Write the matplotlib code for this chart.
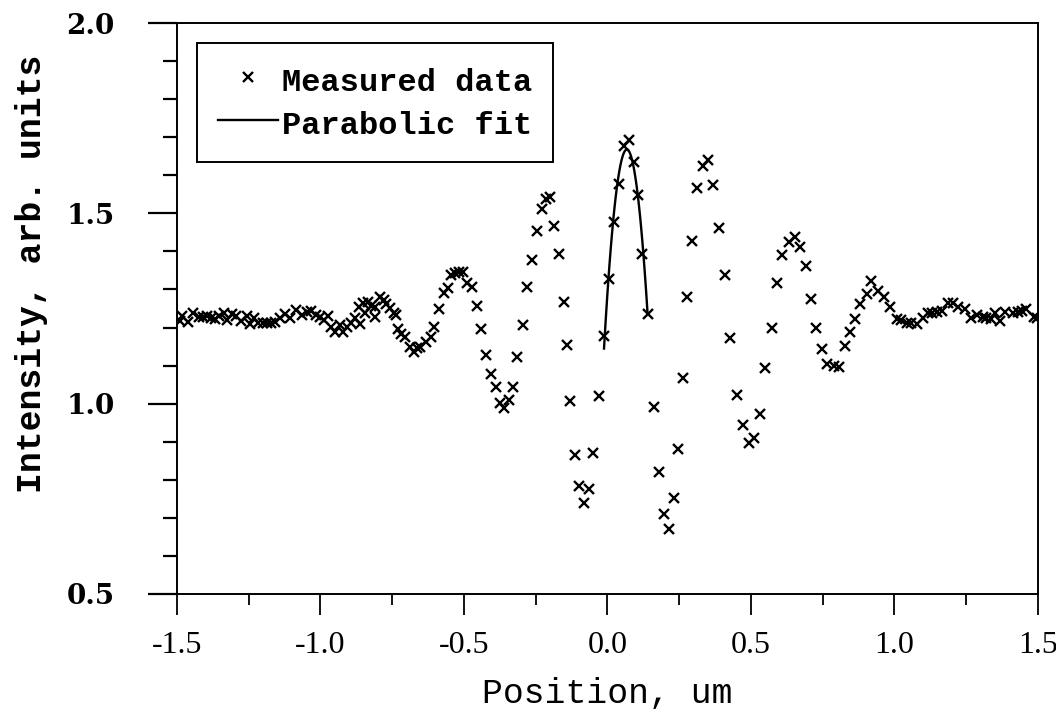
"""
Intensity profile across the sample: measured points plus a parabolic
fit of the central peak.
"""

import numpy as np
import matplotlib
matplotlib.use("Agg")
import matplotlib.pyplot as plt
from matplotlib.ticker import MultipleLocator, FormatStrFormatter

# measured profile (position in um, intensity arb. units)
POSITION = [
    -1.491, -1.481, -1.461, -1.444, -1.424, -1.410, -1.395, -1.383, -1.368, -1.354,
    -1.337, -1.325, -1.308, -1.294, -1.276, -1.256, -1.245, -1.233, -1.218, -1.202,
    -1.187, -1.172, -1.158, -1.141, -1.123, -1.106, -1.086, -1.063, -1.048, -1.033,
    -1.017, -1.002, -0.987, -0.975, -0.962, -0.948, -0.933, -0.921, -0.906, -0.892,
    -0.881, -0.867, -0.863, -0.852, -0.846, -0.834, -0.823, -0.811, -0.809, -0.794,
    -0.779, -0.771, -0.759, -0.744, -0.736, -0.731, -0.719,
    -0.705, -0.687, -0.675, -0.664, -0.652, -0.632, -0.615, -0.604, -0.586, -0.571,
    -0.557, -0.546, -0.532, -0.517, -0.502, -0.488, -0.471, -0.456, -0.440, -0.422,
    -0.405, -0.389, -0.373, -0.359, -0.344, -0.329, -0.314, -0.296, -0.280, -0.262,
    -0.245, -0.228, -0.213, -0.199, -0.187, -0.170, -0.153, -0.142, -0.130, -0.114,
    -0.099, -0.083, -0.066, -0.049, -0.031, -0.012, 0.005, 0.024, 0.041, 0.057,
    0.076, 0.093, 0.108, 0.121, 0.140, 0.161, 0.180, 0.196, 0.213, 0.231,
    0.247, 0.263, 0.278, 0.293, 0.313, 0.332, 0.349, 0.367, 0.388, 0.410,
    0.428, 0.452, 0.474, 0.492, 0.512, 0.530, 0.550, 0.572, 0.591, 0.608,
    0.632, 0.652, 0.672, 0.693, 0.709, 0.728, 0.748, 0.765, 0.788, 0.806,
    0.826, 0.844, 0.863, 0.880, 0.903, 0.920, 0.944, 0.964, 0.986, 1.009,
    1.024, 1.043, 1.058, 1.078, 1.100, 1.116, 1.132, 1.147, 1.165, 1.185,
    1.204, 1.221, 1.247, 1.268, 1.288, 1.308, 1.320, 1.337, 1.349, 1.369,
    1.385, 1.412, 1.429, 1.443, 1.458, 1.485, 1.496,
]
INTENSITY = [
    1.218, 1.230, 1.215, 1.239, 1.227, 1.227, 1.229, 1.224, 1.222, 1.230,
    1.239, 1.220, 1.236, 1.229, 1.218, 1.230, 1.209, 1.224, 1.213, 1.213,
    1.213, 1.211, 1.215, 1.224, 1.236, 1.224, 1.246, 1.233, 1.242, 1.244,
    1.233, 1.227, 1.220, 1.230, 1.202, 1.189, 1.207, 1.187, 1.202, 1.213,
    1.224, 1.253, 1.209, 1.264, 1.237, 1.268, 1.257, 1.227, 1.253, 1.281,
    1.272, 1.262, 1.251, 1.237, 1.233, 1.195, 1.183,
    1.174, 1.148, 1.137, 1.145, 1.148, 1.163, 1.174, 1.202, 1.248, 1.292,
    1.303, 1.338, 1.344, 1.347, 1.347, 1.316, 1.306, 1.257, 1.197, 1.127,
    1.077, 1.044, 1.003, 0.988, 1.010, 1.045, 1.122, 1.207, 1.306, 1.377,
    1.454, 1.511, 1.538, 1.544, 1.466, 1.392, 1.268, 1.154, 1.007, 0.864,
    0.784, 0.740, 0.775, 0.871, 1.020, 1.178, 1.328, 1.478, 1.576, 1.677,
    1.693, 1.636, 1.548, 1.392, 1.235, 0.990, 0.821, 0.710, 0.670, 0.751,
    0.880, 1.067, 1.281, 1.426, 1.566, 1.624, 1.640, 1.574, 1.461, 1.338,
    1.173, 1.023, 0.944, 0.896, 0.909, 0.972, 1.093, 1.198, 1.318, 1.390,
    1.424, 1.437, 1.411, 1.362, 1.275, 1.198, 1.143, 1.103, 1.100, 1.097,
    1.152, 1.187, 1.222, 1.262, 1.288, 1.323, 1.297, 1.281, 1.255, 1.222,
    1.221, 1.212, 1.211, 1.210, 1.224, 1.237, 1.237, 1.242, 1.243, 1.265,
    1.265, 1.255, 1.248, 1.224, 1.233, 1.227, 1.224, 1.222, 1.239, 1.218,
    1.242, 1.239, 1.242, 1.244, 1.248, 1.227, 1.224,
]

# window of the central peak used for the parabolic fit
FIT_START = -0.015
FIT_END = 0.145

X_TICKS = [-1.5, -1.0, -0.5, 0.0, 0.5, 1.0, 1.5]
Y_TICKS = [0.5, 1.0, 1.5, 2.0]

SERIF_WIDE = ["DejaVu Serif"]
SERIF_NARROW = ["Liberation Serif", "DejaVu Serif"]
TYPEWRITER = ["Liberation Mono", "DejaVu Sans Mono"]


def main():
    x = np.array(POSITION)
    y = np.array(INTENSITY)

    # parabolic fit over the peak window, like the original analysis
    mask = (x >= FIT_START) & (x <= FIT_END)
    coeffs = np.polyfit(x[mask], y[mask], 2)
    x_fit = np.linspace(x[mask].min(), x[mask].max(), 120)
    y_fit = np.polyval(coeffs, x_fit)

    fig = plt.figure(figsize=(10.56, 7.10), dpi=100)
    ax = fig.add_axes([0.1676, 0.1634, 0.8153, 0.8042])

    ax.plot(x, y, linestyle="none", marker="x", color="black",
            markersize=6.5, markeredgewidth=1.7, label="Measured data")
    ax.plot(x_fit, y_fit, color="black", linewidth=1.7, label="Parabolic fit")

    ax.set_xlim(-1.5, 1.5)
    ax.set_ylim(0.5, 2.0)
    ax.set_xticks(X_TICKS)
    ax.set_yticks(Y_TICKS)
    ax.xaxis.set_minor_locator(MultipleLocator(0.25))
    ax.yaxis.set_minor_locator(MultipleLocator(0.1))
    ax.xaxis.set_major_formatter(FormatStrFormatter("%.1f"))
    ax.yaxis.set_major_formatter(FormatStrFormatter("%.1f"))

    for side in ax.spines.values():
        side.set_linewidth(1.4)

    ax.tick_params(axis="x", which="major", direction="out", length=15, width=1.3, pad=12)
    ax.tick_params(axis="x", which="minor", direction="out", length=8, width=1.3)
    ax.tick_params(axis="y", which="major", direction="out", length=21, width=1.6, pad=24)
    ax.tick_params(axis="y", which="minor", direction="out", length=10, width=1.6)

    for lab in ax.get_xticklabels():
        lab.set_fontfamily(SERIF_NARROW)
        lab.set_fontsize(23)
    for lab in ax.get_yticklabels():
        lab.set_fontfamily(SERIF_WIDE)
        lab.set_fontsize(20)
        lab.set_fontweight("bold")

    ax.set_xlabel("Position, um", fontsize=25, family=TYPEWRITER)
    ax.xaxis.set_label_coords(0.5, -0.145)
    ax.set_ylabel("Intensity, arb. units", fontsize=25, family=TYPEWRITER,
                  fontweight="bold")
    ax.yaxis.set_label_coords(-0.15, 0.56)

    leg = ax.legend(loc="upper left", bbox_to_anchor=(0.0232, 0.965), borderaxespad=0,
                    frameon=True, fancybox=False, edgecolor="black", framealpha=1,
                    prop={"family": TYPEWRITER, "size": 23, "weight": "bold"},
                    handlelength=1.9, handleheight=1.2, handletextpad=0.1,
                    labelspacing=0.28, borderpad=0.65)
    leg.get_frame().set_linewidth(1.4)

    fig.savefig("out.png", dpi=100)
    plt.close(fig)


if __name__ == "__main__":
    main()
